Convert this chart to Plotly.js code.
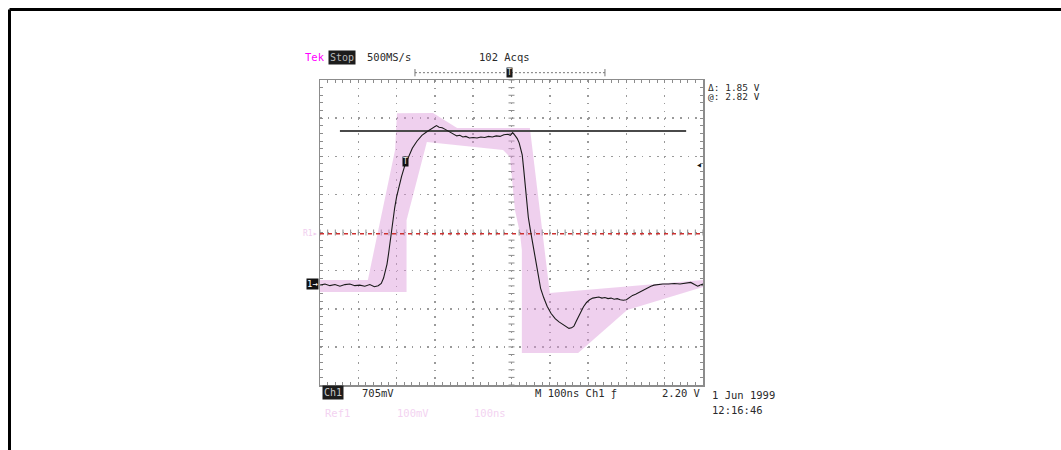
<!DOCTYPE html>
<html>
<head>
<meta charset="utf-8">
<script src="https://cdn.plot.ly/plotly-3.0.1.min.js"></script>
<style>html,body{margin:0;padding:0;background:#fff;}#chart{width:1061px;height:450px;}</style>
</head>
<body>
<div id="chart"></div>
<script>
// ---- Ch1 acquired waveform (time in ns, volts relative to Ch1 ground) ----
const timeNs = [-500,-487,-474,-461,-448,-435,-422,-409,-396,-383,-370,-358,-348,-340,-334,-329,-325,-321,-317,-313,-309,-305,-300,-294,-287,-279,-270,-259,-247,-234,-222,-212,-203,-196,-189,-181,-173,-165,-157,-150,-143,-135,-127,-119,-110,-100,-90,-80,-70,-60,-50,-40,-30,-20,-10,-3,3,9,15,20,24,28,32,36,40,44,49,54,59,64,70,76,84,93,103,114,124,134,143,150,157,163,169,175,181,188,196,204,212,220,228,236,244,252,260,268,276,284,292,300,308,316,324,332,340,348,356,364,372,382,395,410,425,440,455,468,478,486,493,500];
const ch1V = [-0.03,-0.01,-0.04,-0.02,-0.05,-0.02,-0.01,-0.04,-0.03,-0.05,-0.02,-0.06,-0.04,0.0,0.10,0.22,0.36,0.55,0.78,1.00,1.20,1.40,1.60,1.80,1.98,2.17,2.33,2.50,2.63,2.74,2.80,2.85,2.88,2.92,2.89,2.88,2.85,2.82,2.78,2.76,2.73,2.74,2.71,2.72,2.69,2.70,2.69,2.71,2.70,2.72,2.71,2.73,2.72,2.75,2.76,2.74,2.79,2.74,2.68,2.60,2.48,2.38,2.10,1.80,1.48,1.22,1.00,0.79,0.58,0.38,0.12,-0.09,-0.26,-0.42,-0.55,-0.65,-0.71,-0.76,-0.81,-0.83,-0.82,-0.79,-0.70,-0.61,-0.52,-0.43,-0.35,-0.30,-0.27,-0.26,-0.25,-0.27,-0.26,-0.28,-0.27,-0.29,-0.28,-0.30,-0.31,-0.30,-0.26,-0.22,-0.20,-0.17,-0.13,-0.11,-0.08,-0.05,-0.03,-0.02,-0.01,-0.01,0.0,-0.01,0.0,0.02,-0.02,-0.05,-0.03,-0.01];

// ---- Ref1 envelope (upper and lower bounds) ----
const envUpperT = [-500,-375,-304,-299,-205,-142,48,100,500];
const envUpperV = [0.065,0.065,2.47,3.15,3.153,2.875,2.875,-0.176,0.065];
const envLowerT = [-500,-274,-274,-221,-22,-4,9,22,27,27,174,302,500];
const envLowerV = [-0.157,-0.157,1.17,2.617,2.469,2.339,1.359,0.934,0.619,-1.285,-1.285,-0.490,-0.065];

// ---- levels / cursors ----
const ref1Level = 0.92;
const cursorV = 2.82;
const cursorSpanNs = [-448, 456];
const trigLevelV = 2.20;
const voltsPerDiv = 0.705;
const nsPerDiv = 100;
const centerV = 0.943;

const envT = envUpperT.concat(envLowerT.slice().reverse());
const envV = envUpperV.concat(envLowerV.slice().reverse());

const pinkFill = 'rgba(219,151,217,0.45)';
const traces = [
  {x: envT, y: envV, type:'scatter', mode:'lines', fill:'toself', fillcolor: pinkFill, line:{width:0, color: pinkFill}, hoverinfo:'skip'},
  {x: [-500, 500], y: [ref1Level, ref1Level], type:'scatter', mode:'lines', line:{color:'#cc3030', width:1.6, dash:'4px,4px'}, hoverinfo:'skip'},
  {x: cursorSpanNs, y: [cursorV, cursorV], type:'scatter', mode:'lines', line:{color:'#4a4a4a', width:1.8}, hoverinfo:'skip'},
  {x: timeNs, y: ch1V, type:'scatter', mode:'lines', line:{color:'#1a1a1a', width:1.1}, hoverinfo:'skip'}
];

const yMin = centerV - 4*voltsPerDiv, yMax = centerV + 4*voltsPerDiv;
const axCol = '#8c8c8c';

// crosshair tick marks along the centre lines
const shapes = [];
for (let i = -25; i <= 25; i++) {
  if (i === 0) continue;
  const t = i * nsPerDiv / 5;
  shapes.push({type:'line', layer:'between', xref:'x', yref:'y', x0:t, x1:t, ysizemode:'pixel', yanchor:centerV, y0:-3, y1:3, line:{color:axCol, width:1}});
}
for (let k = -20; k <= 20; k++) {
  if (k === 0) continue;
  const v = centerV + k * voltsPerDiv / 5;
  shapes.push({type:'line', layer:'between', xref:'x', yref:'y', y0:v, y1:v, xsizemode:'pixel', xanchor:0, x0:-3, x1:3, line:{color:axCol, width:1}});
}
// outer frame
shapes.push({type:'line', xref:'paper', yref:'paper', x0:-0.8107, x1:1.94, y0:1.2311, y1:1.2311, line:{color:'#000', width:3}});
shapes.push({type:'line', xref:'paper', yref:'paper', x0:-0.8107, x1:-0.8107, y0:1.2311, y1:-0.22, line:{color:'#000', width:3}});
// trigger position bar
shapes.push({type:'line', xref:'paper', yref:'paper', x0:0.248, x1:0.744, y0:1.024, y1:1.024, line:{color:'#777', width:1, dash:'2px,2px'}});
shapes.push({type:'line', xref:'paper', yref:'paper', x0:0.248, x1:0.248, y0:1.012, y1:1.036, line:{color:'#777', width:1}});
shapes.push({type:'line', xref:'paper', yref:'paper', x0:0.744, x1:0.744, y0:1.012, y1:1.036, line:{color:'#777', width:1}});

const F = 'DejaVu Sans Mono, monospace';
const txt = '#2a2a2a';
function ann(text, x, y, o) {
  return Object.assign({text: text, x: x, y: y, xref:'paper', yref:'paper', xanchor:'left', yanchor:'middle', showarrow:false, font:{family:F, size:10.5, color:txt}}, o || {});
}
const annotations = [
  ann('Tek', -0.045, 1.075, {font:{family:F, size:10.5, color:'#ff00ff'}}),
  ann('Stop', 0.022, 1.075, {bgcolor:'#1c1c1c', font:{family:F, size:10, color:'#b8b8b8'}, borderpad:1}),
  ann('500MS/s', 0.117, 1.075),
  ann('102 Acqs', 0.41, 1.075),
  ann('T', 0.496, 1.026, {xanchor:'center', bgcolor:'#1c1c1c', font:{family:F, size:8, color:'#ddd'}, borderpad:0}),
  ann('\u0394: 1.85 V', 1.008, 0.974, {font:{family:F, size:9.5, color:txt}}),
  ann('@: 2.82 V', 1.008, 0.947, {font:{family:F, size:9.5, color:txt}}),
  ann('\u25C2', 0.99, trigLevelV, {yref:'y', xanchor:'center', font:{family:F, size:10, color:'#111'}}),
  ann('1\u2192', -0.002, 0, {yref:'y', xanchor:'right', bgcolor:'#111', font:{family:F, size:9, color:'#fff'}, borderpad:0}),
  ann('R1\u25B8', -0.002, ref1Level, {yref:'y', xanchor:'right', font:{family:F, size:8, color:'#f0cdee'}}),
  ann('T', -278, 2.25, {xref:'x', yref:'y', xanchor:'center', bgcolor:'#111', font:{family:F, size:8, color:'#eee'}, borderpad:0}),
  ann('Ch1', 0.004, -0.026, {bgcolor:'#1c1c1c', font:{family:F, size:10, color:'#c8c8c8'}, borderpad:1}),
  ann('705mV', 0.104, -0.026),
  ann('M 100ns Ch1 \u0192', 0.556, -0.026),
  ann('2.20 V', 0.887, -0.026),
  ann('1 Jun 1999', 1.018, -0.033),
  ann('12:16:46', 1.018, -0.082),
  ann('Ref1', 0.008, -0.092, {font:{family:F, size:10.5, color:'#f3d3f1'}}),
  ann('100mV', 0.196, -0.092, {font:{family:F, size:10.5, color:'#f3d3f1'}}),
  ann('100ns', 0.397, -0.092, {font:{family:F, size:10.5, color:'#f3d3f1'}})
];

const layout = {
  width: 1061, height: 450,
  margin: {l:320, r:358, t:80, b:65},
  paper_bgcolor:'#fff', plot_bgcolor:'#fff',
  showlegend:false,
  xaxis: {range:[-500,500], tick0:0, dtick:nsPerDiv, showgrid:true, gridcolor:'#9a9a9a', gridwidth:1.5, griddash:'1.5px,6.125px',
          zeroline:false, showline:true, linecolor:axCol, linewidth:1.5, mirror:'allticks', ticks:'inside', ticklen:3, tickcolor:axCol,
          showticklabels:false, fixedrange:true,
          minor:{dtick:nsPerDiv/5, tick0:0, ticks:'inside', ticklen:3, tickcolor:axCol, showgrid:false}},
  yaxis: {range:[yMin, yMax], tick0:centerV, dtick:voltsPerDiv, showgrid:true, gridcolor:'#9a9a9a', gridwidth:1.5, griddash:'1.5px,6.16px',
          zeroline:false, showline:true, linecolor:axCol, linewidth:1.5, mirror:'allticks', ticks:'inside', ticklen:3, tickcolor:axCol,
          showticklabels:false, fixedrange:true,
          minor:{dtick:voltsPerDiv/5, tick0:centerV, ticks:'inside', ticklen:3, tickcolor:axCol, showgrid:false}},
  shapes: shapes,
  annotations: annotations
};
Plotly.newPlot('chart', traces, layout, {staticPlot:true, displayModeBar:false});
</script>
</body>
</html>
